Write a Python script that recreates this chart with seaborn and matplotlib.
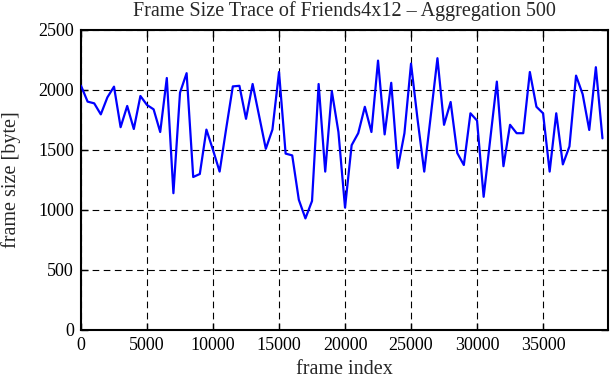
"""
Frame size trace of Friends4x12, aggregated over 500 frames.
"""
import numpy as np
import pandas as pd
import seaborn as sns
import matplotlib
matplotlib.use('Agg')
import matplotlib.pyplot as plt

# aggregation window (frames per point)
AGG = 500

# mean frame size per window [byte]
frame_size = [2036, 1903, 1889, 1797, 1939, 2028, 1690, 1867, 1675, 1950,
              1875, 1839, 1650, 2100, 1140, 1978, 2140, 1275, 1300, 1670,
              1500, 1320, 1680, 2030, 2035, 1760, 2050, 1780, 1510, 1670,
              2150, 1470, 1455, 1085, 930, 1075, 2050, 1320, 1990, 1650,
              1020, 1540, 1640, 1860, 1650, 2245, 1630, 2060, 1350, 1640,
              2220, 1750, 1320, 1790, 2265, 1710, 1900, 1475, 1375, 1806,
              1745, 1110, 1590, 2070, 1365, 1710, 1640, 1640, 2150, 1860,
              1806, 1320, 1806, 1380, 1530, 2120, 1965, 1667, 2190, 1597]
frame_index = [i * AGG for i in range(len(frame_size))]

xticks = [0, 5000, 10000, 15000, 20000, 25000, 30000, 35000]
yticks = [0, 500, 1000, 1500, 2000, 2500]


def main():
    sns.set_theme(style='white')
    plt.rcParams['font.family'] = ['Liberation Serif', 'DejaVu Serif']

    df = pd.DataFrame({'frame index': frame_index, 'frame size': frame_size})

    fig = plt.figure(figsize=(6.11, 3.80), dpi=100)
    ax = fig.add_axes([81 / 611, 50 / 380, 527 / 611, 300 / 380])

    sns.lineplot(data=df, x='frame index', y='frame size', ax=ax,
                 color='#0000ff', linewidth=1.6, zorder=3)

    ax.set_xlim(0, 39920)
    ax.set_ylim(0, 2500)
    ax.set_xticks(xticks)
    ax.set_yticks(yticks)

    ax.grid(True, color='black', linestyle=(0, (6, 4)), linewidth=0.8)
    for s in ax.spines.values():
        s.set_visible(True)
        s.set_color('black')
        s.set_linewidth(1.5)

    ax.tick_params(direction='in', length=5, width=1, colors='black',
                   top=True, right=True, bottom=True, left=True,
                   labelsize=13, pad=5)

    ax.set_xlabel('frame index', fontsize=14.5, va='center')
    ax.xaxis.set_label_coords(0.5, (330 - 370) / 300)
    ax.set_ylabel('frame size [byte]', fontsize=14.5, va='center')
    ax.yaxis.set_label_coords((11 - 81) / 527, 0.5)
    ax.set_title('Frame Size Trace of Friends4x12 \u2013 Aggregation 500',
                 fontsize=14.5, pad=10)

    plt.savefig('out.png', dpi=100)


if __name__ == '__main__':
    main()
